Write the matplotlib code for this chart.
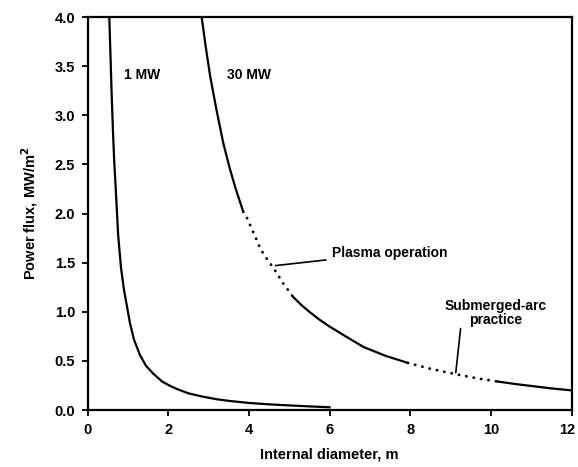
import matplotlib
matplotlib.use("Agg")
import matplotlib.pyplot as plt
import matplotlib.transforms as mtransforms

plt.rcParams['font.family'] = ['Liberation Sans', 'DejaVu Sans']
plt.rcParams['font.weight'] = 'bold'

# 1 MW curve (diameter m, power flux MW/m2)
d_1mw = [0.54, 0.57, 0.60, 0.63, 0.66, 0.70, 0.76, 0.83, 0.905, 0.95, 1.05, 1.15, 1.30, 1.45, 1.63, 1.85, 2.05, 2.21, 2.50, 2.87, 3.20, 3.53, 4.00, 4.50, 5.00, 5.50, 6.00]
f_1mw = [4.00, 3.60, 3.20, 2.85, 2.55, 2.25, 1.78, 1.45, 1.22, 1.12, 0.89, 0.72, 0.56, 0.45, 0.37, 0.29, 0.245, 0.215, 0.17, 0.135, 0.11, 0.092, 0.072, 0.058, 0.047, 0.037, 0.028]

# 30 MW curve segments (solid / dotted alternating)
d_30_a = [2.83, 2.93, 3.04, 3.20, 3.37, 3.52, 3.66, 3.86]
f_30_a = [4.00, 3.70, 3.40, 3.05, 2.71, 2.47, 2.27, 2.02]
d_30_b = [3.86, 3.96, 4.12, 4.30, 4.46, 4.62, 4.85, 5.10]
f_30_b = [2.02, 1.95, 1.80, 1.63, 1.53, 1.44, 1.29, 1.15]
d_30_c = [5.10, 5.30, 5.50, 5.75, 6.00, 6.40, 6.85, 7.40, 7.94]
f_30_c = [1.15, 1.07, 1.00, 0.92, 0.85, 0.75, 0.64, 0.55, 0.48]
d_30_d = [7.94, 8.50, 9.18, 9.70, 10.17]
f_30_d = [0.48, 0.42, 0.36, 0.32, 0.29]
d_30_e = [10.17, 10.60, 11.00, 11.50, 12.00]
f_30_e = [0.29, 0.265, 0.245, 0.22, 0.20]

x_ticks = [0, 2, 4, 6, 8, 10, 12]
y_ticks = [0.0, 0.5, 1.0, 1.5, 2.0, 2.5, 3.0, 3.5, 4.0]

fig = plt.figure(figsize=(5.78, 4.67), dpi=100)
ax = fig.add_axes([0.1514, 0.122, 0.8374, 0.8415])

lw = 1.6
dot = (0, (0.1, 2.6))
ax.plot(d_1mw, f_1mw, color='black', lw=lw, solid_joinstyle='round')
ax.plot(d_30_a, f_30_a, color='black', lw=lw, solid_joinstyle='round')
ax.plot(d_30_b, f_30_b, color='black', lw=2.0, linestyle=dot, dash_capstyle='round')
ax.plot(d_30_c, f_30_c, color='black', lw=lw, solid_joinstyle='round')
ax.plot(d_30_d, f_30_d, color='black', lw=2.0, linestyle=dot, dash_capstyle='round')
ax.plot(d_30_e, f_30_e, color='black', lw=lw, solid_joinstyle='round')

ax.set_xlim(0, 12)
ax.set_ylim(0, 4.0)
ax.set_xticks(x_ticks)
ax.set_xticklabels([str(v) for v in x_ticks])
ax.set_yticks(y_ticks)
ax.set_yticklabels([f"{v:.1f}" for v in y_ticks])
ax.tick_params(direction='out', length=4, width=1.3, labelsize=10.5, pad=5)
for s in ax.spines.values():
    s.set_linewidth(1.6)

last = ax.get_xticklabels()[-1]
last.set_transform(last.get_transform() + mtransforms.ScaledTranslation(-4 / 100, 0, fig.dpi_scale_trans))

ax.set_xlabel("Internal diameter, m", fontsize=10.5, fontweight='bold', labelpad=8)
ax.set_ylabel("Power flux, MW/m$^\\mathbf{2}$", fontsize=10.5, fontweight='bold', labelpad=10)

ax.text(0.90, 3.41, "1 MW", fontsize=10, fontweight='bold', va='center', ha='left')
ax.text(3.46, 3.41, "30 MW", fontsize=10, fontweight='bold', va='center', ha='left')

ax.annotate("Plasma operation", xy=(4.66, 1.47), xytext=(6.05, 1.6),
            fontsize=10, fontweight='bold', va='center', ha='left',
            arrowprops=dict(arrowstyle='-', color='black', lw=1.2, shrinkA=2, shrinkB=0))
ax.text(10.12, 0.99, "Submerged-arc\npractice", fontsize=10, fontweight='bold',
        ha='center', va='center', linespacing=1.0)
ax.annotate("", xy=(9.13, 0.38), xytext=(9.25, 0.83),
            arrowprops=dict(arrowstyle='-', color='black', lw=1.2, shrinkA=0, shrinkB=0))

fig.savefig("out.png", dpi=100)
